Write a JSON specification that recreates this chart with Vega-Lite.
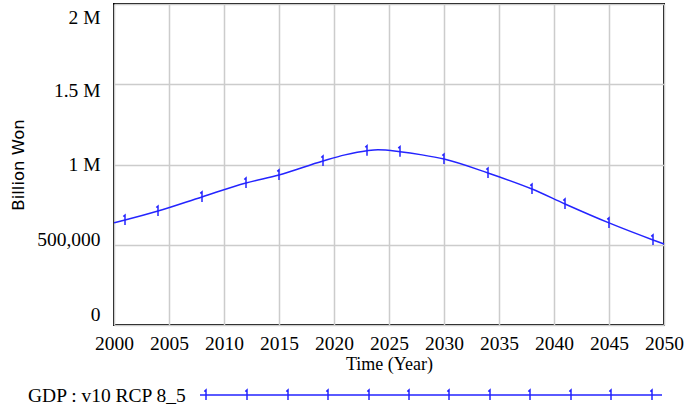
{
  "$schema": "https://vega.github.io/schema/vega-lite/v6.json",
  "autosize": "none",
  "width": 550,
  "height": 321,
  "padding": {"left": 114, "top": 4, "right": 21, "bottom": 84},
  "background": "white",
  "config": {
    "view": {"stroke": "black", "strokeWidth": 2},
    "axis": {"gridColor": "#cccccc", "gridWidth": 1.5, "domain": false, "ticks": false, "labelFont": "Liberation Serif", "labelFontSize": 19.5, "labelColor": "black"}
  },
  "data": {
    "values": [
      {"year": 2000, "gdp": 637000, "series": "GDP : v10 RCP 8_5", "mk": false},
      {"year": 2001, "gdp": 654000, "series": "GDP : v10 RCP 8_5", "mk": true},
      {"year": 2004, "gdp": 710000, "series": "GDP : v10 RCP 8_5", "mk": true},
      {"year": 2008, "gdp": 798000, "series": "GDP : v10 RCP 8_5", "mk": true},
      {"year": 2012, "gdp": 885000, "series": "GDP : v10 RCP 8_5", "mk": true},
      {"year": 2015, "gdp": 935000, "series": "GDP : v10 RCP 8_5", "mk": true},
      {"year": 2019, "gdp": 1022000, "series": "GDP : v10 RCP 8_5", "mk": true},
      {"year": 2021, "gdp": 1060000, "series": "GDP : v10 RCP 8_5", "mk": false},
      {"year": 2023, "gdp": 1086000, "series": "GDP : v10 RCP 8_5", "mk": true},
      {"year": 2024, "gdp": 1092000, "series": "GDP : v10 RCP 8_5", "mk": false},
      {"year": 2026, "gdp": 1080000, "series": "GDP : v10 RCP 8_5", "mk": true},
      {"year": 2028, "gdp": 1060000, "series": "GDP : v10 RCP 8_5", "mk": false},
      {"year": 2030, "gdp": 1034000, "series": "GDP : v10 RCP 8_5", "mk": true},
      {"year": 2034, "gdp": 947000, "series": "GDP : v10 RCP 8_5", "mk": true},
      {"year": 2038, "gdp": 847000, "series": "GDP : v10 RCP 8_5", "mk": true},
      {"year": 2041, "gdp": 754000, "series": "GDP : v10 RCP 8_5", "mk": true},
      {"year": 2045, "gdp": 636000, "series": "GDP : v10 RCP 8_5", "mk": true},
      {"year": 2049, "gdp": 530000, "series": "GDP : v10 RCP 8_5", "mk": true},
      {"year": 2050, "gdp": 505000, "series": "GDP : v10 RCP 8_5", "mk": false}
    ]
  },
  "encoding": {
    "x": {
      "field": "year", "type": "quantitative",
      "scale": {"domain": [2000, 2050], "nice": false, "zero": false},
      "axis": {"values": [2000, 2005, 2010, 2015, 2020, 2025, 2030, 2035, 2040, 2045, 2050], "format": "d", "labelPadding": 9, "labelFlush": false, "title": "Time (Year)", "titleFont": "Liberation Serif", "titleFontSize": 18, "titleFontWeight": "normal", "titlePadding": 3, "titleColor": "black"}
    },
    "y": {
      "field": "gdp", "type": "quantitative",
      "scale": {"domain": [0, 2000000], "nice": false},
      "axis": {
        "values": [0, 500000, 1000000, 1500000, 2000000],
        "labelExpr": "datum.value >= 1000000 ? format(datum.value/1000000, '') + ' M' : format(datum.value, ',')",
        "labelPadding": 14,
        "labelFlush": false,
        "labelOffset": {"condition": [
          {"test": "datum.value == 0", "value": -11},
          {"test": "datum.value == 500000", "value": -5},
          {"test": "datum.value == 1500000", "value": 6},
          {"test": "datum.value == 2000000", "value": 13}
        ], "value": 0},
        "title": "Billion Won", "titleFont": "DejaVu Sans", "titleFontSize": 16.5, "titleFontWeight": "normal", "titleColor": "black", "titlePadding": 10
      }
    }
  },
  "layer": [
    {
      "mark": {"type": "line", "color": "#2424ff", "strokeWidth": 1.5, "interpolate": "monotone"},
      "encoding": {
        "color": {
          "field": "series", "type": "nominal",
          "scale": {"range": ["#2424ff"]},
          "legend": {
            "orient": "none", "legendX": -86, "legendY": 385,
            "title": "GDP : v10 RCP 8_5", "titleOrient": "left", "titleFont": "Liberation Serif", "titleFontSize": 19.5, "titleFontWeight": "normal", "titleColor": "black", "titleBaseline": "middle", "titlePadding": 11,
            "labelExpr": "''", "labelOffset": 0,
            "symbolType": "M-1,0L91.4,0M-0.15,-0.7L0.2,-1L0.2,1M8.05,-0.7L8.4,-1L8.4,1M16.25,-0.7L16.6,-1L16.6,1M24.25,-0.7L24.6,-1L24.6,1M32.45,-0.7L32.8,-1L32.8,1M40.45,-0.7L40.8,-1L40.8,1M48.45,-0.7L48.8,-1L48.8,1M56.65,-0.7L57,-1L57,1M64.65,-0.7L65,-1L65,1M72.85,-0.7L73.2,-1L73.2,1M80.85,-0.7L81.2,-1L81.2,1M89.05,-0.7L89.4,-1L89.4,1",
            "symbolSize": 100, "symbolStrokeWidth": 1.5, "symbolFillColor": "transparent", "symbolStrokeColor": "#2424ff"
          }
        }
      }
    },
    {
      "transform": [{"filter": "datum.mk"}],
      "mark": {"type": "point", "shape": "M-0.35,-0.7L0,-1L0,1", "filled": false, "size": 100, "strokeWidth": 1.5, "color": "#2424ff", "opacity": 1}
    }
  ]
}
